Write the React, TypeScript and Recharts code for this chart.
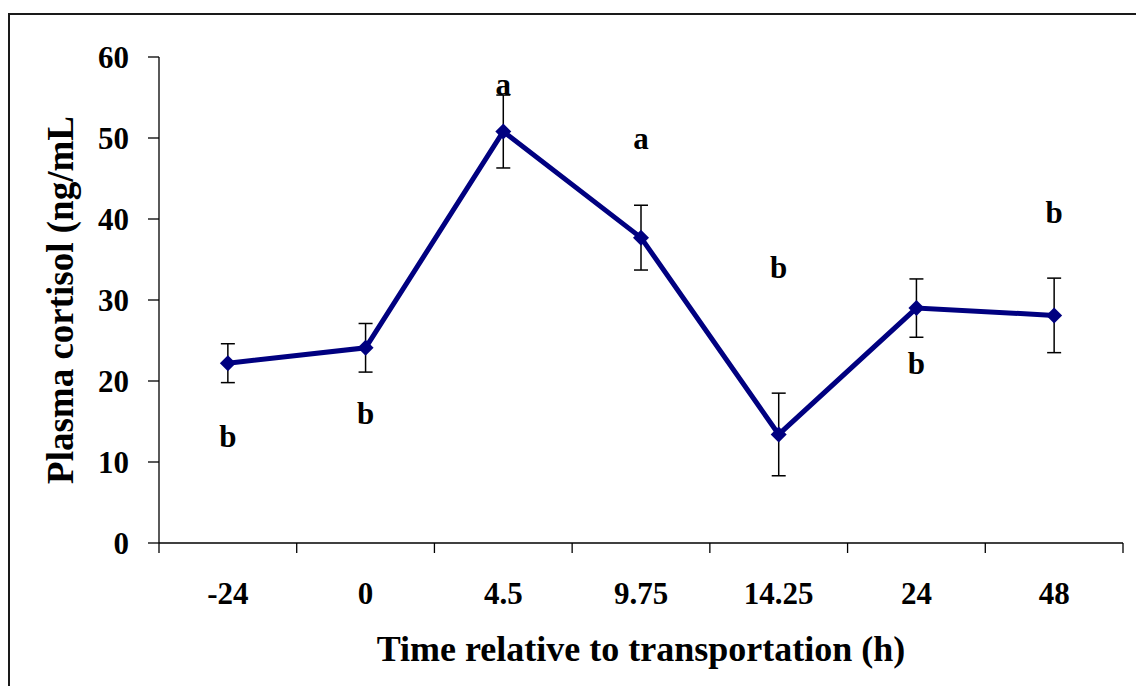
import React from 'react';
import { ComposedChart, Line, XAxis, YAxis, ErrorBar, Label } from 'recharts';

const timeLabels = ['-24', '0', '4.5', '9.75', '14.25', '24', '48'];
const cortisolMean = [22.2, 24.1, 50.8, 37.7, 13.4, 29.0, 28.1];
const cortisolSem = [2.4, 3.0, 4.5, 4.0, 5.1, 3.6, 4.6];
const groupLetters = ['b', 'b', 'a', 'a', 'b', 'b', 'b'];
const letterPos = [11.9, 14.7, 55.3, 48.7, 32.7, 20.9, 39.5];
const yTicks = [0, 10, 20, 30, 40, 50, 60];

const data = timeLabels.map((t, i) => ({
  time: t,
  cortisol: cortisolMean[i],
  sem: cortisolSem[i],
  letter: groupLetters[i],
  letterPos: letterPos[i],
}));

const FONT = '"Liberation Serif", "Times New Roman", serif';
const NAVY = '#000080';
const X_TICK_SIZE = 10;
const X_TICK_MARGIN = 29;

// category labels sit mid-band, tick marks go on the band edges
function TimeTick(props: any) {
  const { x, y, payload, index, visibleTicksCount } = props;
  const half = payload?.offset ?? 0;
  const axisY = y - X_TICK_SIZE - X_TICK_MARGIN;
  return (
    <g>
      <line x1={x - half} x2={x - half} y1={axisY} y2={axisY + X_TICK_SIZE} stroke="#000" strokeWidth={1.3} />
      {index === visibleTicksCount - 1 && (
        <line x1={x + half} x2={x + half} y1={axisY} y2={axisY + X_TICK_SIZE} stroke="#000" strokeWidth={1.3} />
      )}
      <text x={x} y={y} dy="0.71em" textAnchor="middle" fontFamily={FONT} fontWeight="bold" fontSize={31} fill="#000">
        {payload.value}
      </text>
    </g>
  );
}

function Diamond(props: any) {
  const { cx, cy } = props;
  if (cx == null || cy == null) return null;
  const r = 8;
  return <polygon points={`${cx},${cy - r} ${cx + r},${cy} ${cx},${cy + r} ${cx - r},${cy}`} fill={NAVY} />;
}

function Letter(props: any) {
  const { cx, cy, payload } = props;
  if (cx == null || cy == null) return null;
  return (
    <text x={cx} y={cy} textAnchor="middle" fontFamily={FONT} fontWeight="bold" fontSize={31} fill="#000">
      {payload.letter}
    </text>
  );
}

export default function App() {
  return (
    <div style={{ position: 'absolute', left: 0, top: 0, width: 1136, height: 686, overflow: 'hidden', background: '#fff' }}>
      <div
        style={{
          position: 'absolute',
          left: 8,
          top: 13,
          width: 1200,
          height: 800,
          borderTop: '2px solid #1a1a1a',
          borderLeft: '2px solid #1a1a1a',
        }}
      />
      <div style={{ position: 'absolute', left: 0, top: 0 }}>
        <ComposedChart width={1136} height={686} data={data} margin={{ top: 57, right: 13, bottom: 13, left: 59 }}>
          <XAxis
            dataKey="time"
            scale="band"
            height={130}
            axisLine={{ stroke: '#000', strokeWidth: 1.3 }}
            tickLine={false}
            tickSize={X_TICK_SIZE}
            tickMargin={X_TICK_MARGIN}
            interval={0}
            tick={<TimeTick />}
          >
            <Label
              value="Time relative to transportation (h)"
              position="insideBottom"
              offset={12}
              style={{ fontFamily: FONT, fontWeight: 'bold', fontSize: 36, fill: '#000' }}
            />
          </XAxis>
          <YAxis
            width={100}
            domain={[0, 60]}
            ticks={yTicks}
            axisLine={{ stroke: '#000', strokeWidth: 1.3 }}
            tickLine={{ stroke: '#000', strokeWidth: 1.3 }}
            tickSize={11}
            tickMargin={19}
            tick={{ fontFamily: FONT, fontWeight: 'bold', fontSize: 31, fill: '#000' }}
          >
            <Label
              value="Plasma cortisol (ng/mL"
              angle={-90}
              position="insideLeft"
              offset={1}
              style={{ fontFamily: FONT, fontWeight: 'bold', fontSize: 37, fill: '#000', textAnchor: 'middle' }}
            />
          </YAxis>
          <Line
            dataKey="cortisol"
            stroke={NAVY}
            strokeWidth={5}
            dot={<Diamond />}
            activeDot={false}
            isAnimationActive={false}
          >
            <ErrorBar dataKey="sem" width={7} stroke="#000" strokeWidth={1.5} direction="y" />
          </Line>
          <Line
            dataKey="letterPos"
            stroke="none"
            dot={<Letter />}
            activeDot={false}
            isAnimationActive={false}
          />
        </ComposedChart>
      </div>
    </div>
  );
}
